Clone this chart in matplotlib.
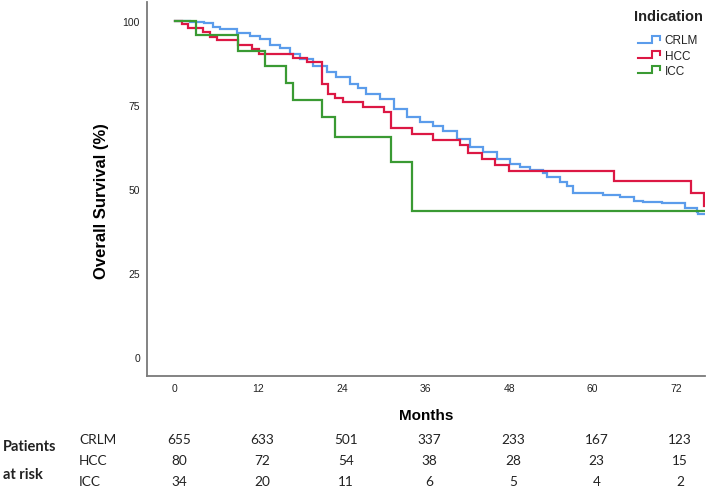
import matplotlib
matplotlib.use("Agg")
import matplotlib.pyplot as plt
from matplotlib.lines import Line2D
from matplotlib.legend_handler import HandlerBase
from matplotlib import transforms

plt.rcParams['font.family'] = ['Liberation Sans', 'DejaVu Sans']

# ---------------- data ----------------
groups = ["CRLM", "HCC", "ICC"]

crlm_t = [0, 2.2, 4.1, 5.5, 6.5, 8.9, 10.8, 12.2, 13.6, 15.1, 16.5, 18.0, 19.9,
          21.8, 23.2, 25.1, 26.3, 27.5, 29.5, 31.4, 33.3, 35.2, 37.1, 38.5,
          40.5, 42.4, 44.3, 46.2, 48.1, 49.6, 51.0, 52.9, 53.4, 55.3, 56.3,
          57.2, 61.5, 63.9, 65.9, 67.3, 70.0, 73.3, 75.0, 75.2, 76.0]
crlm_s = [100, 99.7, 99.2, 98.2, 97.5, 96.4, 95.5, 94.5, 92.8, 91.8, 90.1, 88.6,
          86.6, 84.6, 83.1, 81.2, 80.0, 78.2, 76.7, 73.7, 71.3, 69.8, 68.8,
          67.3, 64.8, 62.4, 60.9, 58.9, 57.4, 56.4, 55.7, 54.7, 53.5, 52.0,
          50.8, 48.8, 48.2, 47.5, 46.5, 46.1, 45.8, 44.3, 43.3, 42.6, 42.6]

hcc_t = [0, 1.0, 1.9, 4.0, 5.0, 6.0, 9.1, 11.0, 12.0, 17.0, 19.0, 21.1, 22.0,
         23.0, 24.2, 27.0, 30.0, 31.0, 34.0, 37.0, 41.0, 42.1, 44.1, 46.0,
         48.0, 63.1, 74.1, 76.0]
hcc_s = [100, 99.0, 97.7, 96.5, 95.2, 94.1, 92.7, 91.5, 90.2, 89.0, 87.6, 81.2,
         78.2, 77.0, 75.7, 74.2, 72.8, 68.0, 66.3, 64.5, 63.0, 60.8, 59.0,
         57.1, 55.2, 52.3, 48.8, 45.0]

icc_t = [0, 3.0, 9.0, 13.0, 16.0, 17.0, 21.1, 23.0, 31.0, 34.1, 76.0]
icc_s = [100, 95.6, 91.0, 86.5, 81.6, 76.4, 71.3, 65.5, 57.9, 43.6, 43.6]

risk_times = [0, 12, 24, 36, 48, 60, 72]
risk_crlm = [655, 633, 501, 337, 233, 167, 123]
risk_hcc = [80, 72, 54, 38, 28, 23, 15]
risk_icc = [34, 20, 11, 6, 5, 4, 2]

y_ticks = [0, 25, 50, 75, 100]

colors = {"CRLM": "#5B9CEB", "HCC": "#DC1844", "ICC": "#3A9A33"}

# ---------------- figure ----------------
W, H = 708, 489
fig = plt.figure(figsize=(W / 100, H / 100), dpi=100)
ax_left, ax_right, ax_top, ax_bottom = 147, 705, 3, 377
ax = fig.add_axes([ax_left / W, 1 - ax_bottom / H,
                   (ax_right - ax_left) / W, (ax_bottom - ax_top) / H])

series = {"CRLM": (crlm_t, crlm_s), "HCC": (hcc_t, hcc_s), "ICC": (icc_t, icc_s)}
for g in groups:
    t, s = series[g]
    ax.step(t, s, where="post", color=colors[g], lw=1.6, solid_joinstyle="miter")

ax.set_xlim(-4.02, 76.15)
ax.set_ylim(-5.5, 105.5)
ax.set_xticks(risk_times)
ax.set_yticks(y_ticks)
ax.tick_params(axis="both", length=0, labelsize=7.5, colors="#222222")
ax.tick_params(axis="x", pad=5)
ax.tick_params(axis="y", pad=5)
for side in ["top", "right"]:
    ax.spines[side].set_visible(False)
for side in ["left", "bottom"]:
    ax.spines[side].set_color("#7a7a7a")
    ax.spines[side].set_linewidth(1.3)

ax.set_ylabel("Overall Survival (%)", fontsize=12, fontweight="bold")
ax.yaxis.label.set_va("center")
ax.yaxis.set_label_coords((101.7 - ax_left) / (ax_right - ax_left),
                          (ax_bottom - 201) / (ax_bottom - ax_top))
ax.set_xlabel("Months", fontsize=11, fontweight="bold")
ax.xaxis.label.set_va("center")
ax.xaxis.set_label_coords((425.7 - ax_left) / (ax_right - ax_left),
                          (ax_bottom - 415.7) / (ax_bottom - ax_top))


# legend with stepped handles
class StepHandler(HandlerBase):
    def create_artists(self, legend, orig_handle, xdescent, ydescent,
                       width, height, fontsize, trans):
        x0 = -xdescent
        y0 = -ydescent
        xs = [x0, x0 + 0.62 * width, x0 + 0.62 * width, x0 + width, x0 + width]
        ys = [y0 + 0.1 * height, y0 + 0.1 * height, y0 + 0.9 * height,
              y0 + 0.9 * height, y0 + 0.45 * height]
        ln = Line2D(xs, ys, color=orig_handle.get_color(), lw=1.5,
                    solid_joinstyle="miter", transform=trans)
        return [ln]


handles = [Line2D([], [], color=colors[g]) for g in groups]
leg = ax.legend(handles, groups,
                handler_map={Line2D: StepHandler()},
                loc="upper left", bbox_to_anchor=(638 / W, 1 - 35.5 / H),
                bbox_transform=fig.transFigure, frameon=False,
                fontsize=8.5, handlelength=1.9, handletextpad=0.35,
                labelspacing=0.27, borderpad=0, borderaxespad=0)
for txt in leg.get_texts():
    txt.set_color("#222222")
fig.text(668 / W, 1 - 16.7 / H, "Indication", ha="center", va="center",
         fontsize=10.5, fontweight="bold", color="#222222")

# ---------------- number at risk table ----------------
tab_font = ["Lato", "Liberation Sans", "DejaVu Sans"]
blend = transforms.blended_transform_factory(ax.transData, fig.transFigure)
shift = transforms.ScaledTranslation(4 / 100, 0, fig.dpi_scale_trans)
rows = [("CRLM", risk_crlm, 440), ("HCC", risk_hcc, 461), ("ICC", risk_icc, 482)]
for name, vals, py in rows:
    fig.text(79 / W, 1 - py / H, name, ha="left", va="center", fontsize=9.8,
             family=tab_font, color="#222222")
    for t, v in zip(risk_times, vals):
        ax.text(t, 1 - py / H, str(v), transform=blend + shift, ha="center",
                va="center", fontsize=9.8, family=tab_font, color="#222222",
                clip_on=False)
fig.text(3 / W, 1 - 447 / H, "Patients", ha="left", va="center", fontsize=10.5,
         fontweight="bold", family=tab_font, color="#222222")
fig.text(3 / W, 1 - 475 / H, "at risk", ha="left", va="center", fontsize=10.5,
         fontweight="bold", family=tab_font, color="#222222")

fig.savefig("out.png", dpi=100, facecolor="white")
